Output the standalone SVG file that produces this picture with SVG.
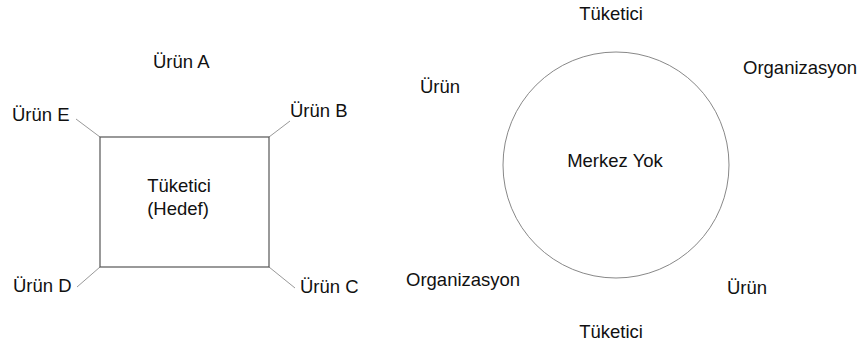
<svg xmlns="http://www.w3.org/2000/svg" width="867" height="347" viewBox="0 0 867 347">
<style>
text{font-family:"Liberation Sans",Arial,sans-serif;font-size:18.5px;fill:#111}
.c{stroke:#999;stroke-width:1;fill:none}
.box{stroke:#555;stroke-width:1.2;fill:#fff}
</style>
<rect width="867" height="347" fill="#fff"/>
<g id="connectors">
<line class="c" x1="100" y1="137" x2="76" y2="119"/>
<line class="c" x1="269" y1="137" x2="290" y2="121"/>
<line class="c" x1="100" y1="267" x2="77" y2="287"/>
<line class="c" x1="269" y1="267" x2="295" y2="288"/>
</g>
<g id="hedef">
<rect class="box" x="100" y="137" width="169" height="130"/>
<text x="179" y="192" text-anchor="middle">Tüketici</text>
<text x="178" y="215" text-anchor="middle">(Hedef)</text>
</g>
<g id="urunA"><text x="153" y="68">Ürün A</text></g>
<g id="urunE"><text x="12" y="121">Ürün E</text></g>
<g id="urunB"><text x="290" y="117">Ürün B</text></g>
<g id="urunD"><text x="13" y="292">Ürün D</text></g>
<g id="urunC"><text x="300" y="293">Ürün C</text></g>
<g id="merkez">
<circle cx="616" cy="165" r="113" fill="none" stroke="#888" stroke-width="1"/>
<text x="615" y="167" text-anchor="middle">Merkez Yok</text>
</g>
<g id="tuketici1"><text x="611" y="20" text-anchor="middle">Tüketici</text></g>
<g id="org1"><text x="743" y="74">Organizasyon</text></g>
<g id="urun1"><text x="420" y="93">Ürün</text></g>
<g id="org2"><text x="406" y="286">Organizasyon</text></g>
<g id="urun2"><text x="727" y="294">Ürün</text></g>
<g id="tuketici2"><text x="611" y="338" text-anchor="middle">Tüketici</text></g>
</svg>
